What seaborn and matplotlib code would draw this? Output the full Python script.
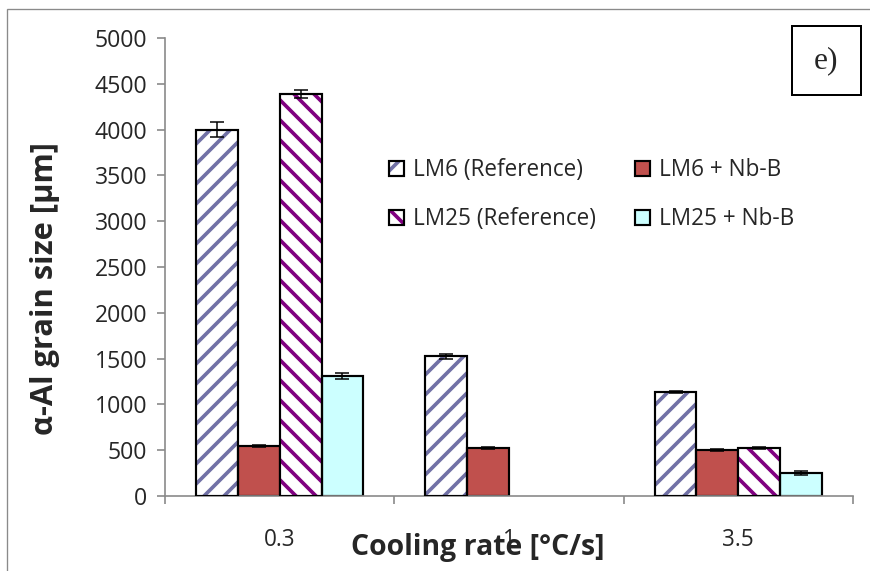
import numpy as np
import pandas as pd
import seaborn as sns
import matplotlib.pyplot as plt
from matplotlib.patches import Rectangle, Patch
from matplotlib.legend_handler import HandlerTuple

# values
rates = ["0.3", "1", "3.5"]
series = ["LM6 (Reference)", "LM6 + Nb-B", "LM25 (Reference)", "LM25 + Nb-B"]
lm6_ref = [4000, 1525, 1135]
lm6_nbb = [545, 522, 502]
lm25_ref = [4390, np.nan, 524]
lm25_nbb = [1310, np.nan, 252]
lm6_ref_err = [85, 25, 15]
lm6_nbb_err = [10, 10, 15]
lm25_ref_err = [45, np.nan, 15]
lm25_nbb_err = [30, np.nan, 18]

blue = "#7171A6"
red = "#C0504D"
purple = "#800080"
cyan = "#CCFFFF"
gray = "#8A8A8A"

rows = []
for name, vals, errs in zip(series,
                            [lm6_ref, lm6_nbb, lm25_ref, lm25_nbb],
                            [lm6_ref_err, lm6_nbb_err, lm25_ref_err, lm25_nbb_err]):
    for r, v, e in zip(rates, vals, errs):
        rows.append({"rate": r, "series": name, "size": v, "err": e})
df = pd.DataFrame(rows)

sns.set_theme(style="white")
plt.rcParams["font.family"] = ["Open Sans", "DejaVu Sans"]
plt.rcParams["hatch.linewidth"] = 2.2

fig = plt.figure(figsize=(870 / 120, 571 / 120), dpi=120)
ax = fig.add_axes([165 / 870, 1 - 496 / 571, 688 / 870, 458 / 571])

sns.barplot(data=df.dropna(subset=["size"]), x="rate", y="size", hue="series",
            order=rates, hue_order=series, width=0.73, errorbar=None,
            palette=[blue, red, purple, cyan], legend=False, ax=ax)

hatch_of = {0: ("//", blue), 2: ("\\\\", purple)}
fills = {1: red, 3: cyan}
bar_conts = list(ax.containers)
for i, cont in enumerate(bar_conts):
    name = series[i]
    sub = df[df["series"] == name].set_index("rate")
    for bar in cont:
        x0, y0 = bar.get_x(), bar.get_y()
        w, h = bar.get_width(), bar.get_height()
        if i in hatch_of:
            bar.set_facecolor("white")
            bar.set_edgecolor(hatch_of[i][1])
            bar.set_hatch(hatch_of[i][0])
            bar.set_linewidth(0)
            ax.add_patch(Rectangle((x0, y0), w, h, fill=False, ec="black", lw=1.3, zorder=3))
        else:
            bar.set_facecolor(fills[i])
            bar.set_edgecolor("black")
            bar.set_linewidth(1.3)
        cat = rates[int(round(x0 + w / 2))]
        ax.errorbar(x0 + w / 2, h, yerr=sub.loc[cat, "err"], fmt="none",
                    ecolor="black", elinewidth=0.9, capsize=4.2, capthick=0.9, zorder=4)

ax.set_xlim(-0.5, 2.5)
ax.set_ylim(0, 5000)
ax.set_yticks(range(0, 5001, 500))
ax.set_xticks(range(len(rates)))
ax.set_xticklabels(rates)
ax.set_xticks([-0.5, 0.5, 1.5, 2.5], minor=True)

for s in ["top", "right"]:
    ax.spines[s].set_visible(False)
for s in ["left", "bottom"]:
    ax.spines[s].set_color(gray)
    ax.spines[s].set_linewidth(1.0)

ax.tick_params(axis="y", which="major", direction="out", length=4.8, width=1,
               color=gray, labelsize=13.8, pad=6, left=True)
ax.tick_params(axis="x", which="major", length=0, labelsize=13.5, pad=19)
ax.tick_params(axis="x", which="minor", direction="out", length=4.8, width=1,
               color=gray, bottom=True)

ax.set_xlabel("Cooling rate [°C/s]", fontsize=17, fontweight="bold")
ax.xaxis.label.set_va("center")
ax.xaxis.set_label_coords(0.455, -0.112)
ax.set_ylabel("α-Al grain size [µm]", fontsize=18.5, fontweight="bold")
ax.yaxis.label.set_va("center")
ax.yaxis.set_label_coords(-0.175, 0.453)

handles = [
    (Patch(fc="white", ec=blue, hatch="//", lw=0), Patch(fill=False, ec="black", lw=1.3)),
    (Patch(fc="white", ec=purple, hatch="\\\\", lw=0), Patch(fill=False, ec="black", lw=1.3)),
    Patch(fc=red, ec="black", lw=1.3),
    Patch(fc=cyan, ec="black", lw=1.3),
]
labels = [series[0], series[2], series[1], series[3]]
ax.legend(handles, labels, handler_map={tuple: HandlerTuple(ndivide=1, pad=0)},
          ncol=2, frameon=False, fontsize=13.5, loc="upper left",
          bbox_to_anchor=(0.3256, 0.737), borderaxespad=0, borderpad=0,
          handlelength=0.65, handleheight=0.65, handletextpad=0.4,
          labelspacing=1.1, columnspacing=1.75)

# "e)" panel tag
fig.patches.append(Rectangle((792 / 870, 1 - 95 / 571), 69 / 870, 69 / 571,
                             transform=fig.transFigure, fill=False, ec="black", lw=1.2))
fig.text(826 / 870, 1 - 61 / 571, "e)", ha="center", va="center",
         fontsize=19, family="Liberation Serif")

# outer frame of the figure
fig.patches.append(Rectangle((7 / 870, -0.1), 1.2, 1.1 - 9 / 571,
                             transform=fig.transFigure, fill=False, ec=gray, lw=0.8))

fig.savefig("out.png", dpi=120)
